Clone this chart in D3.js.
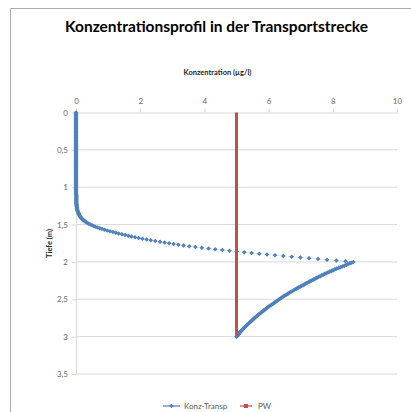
<!DOCTYPE html>
<html>
<head>
<meta charset="utf-8">
<script src="https://cdn.jsdelivr.net/npm/d3@7"></script>
<style>
  body { margin: 0; background: #fff; }
  text { font-family: Lato, "Open Sans", sans-serif; }
</style>
</head>
<body>
<div id="chart"></div>
<script>
const width = 411, height = 412;

// Konz-Transp: concentration (µg/l), one value per 0.01 m depth, 0 ... 3 m
const depthStep = 0.01;
const konzTransp = [
  0,0,0,0,0,0,0,0,0,0,
  0,0,0,0,0,0,0,0,0,0,
  0,0,0,0,0,0,0,0,0,0,
  0,0,0,0,0,0,0,0,0,0,
  0,0,0,0,0,0,0,0,0,0,
  0,0,0,0,0,0,0,0,0,0,
  0,0,0,0,0,0,0,0,0,0,
  0,0,0,0,0,0,0,0,0,0,
  0,0,0,0,0,0,0,0,0,0,
  0,0,0,0,0,0,0,0,0,0,
  0,0,0,0,0,0,0,0,0,0,
  0.01,0.01,0.01,0.01,0.01,0.01,0.01,0.01,0.01,0.01,
  0.01,0.01,0.01,0.02,0.02,0.02,0.02,0.03,0.03,0.03,
  0.04,0.04,0.05,0.06,0.07,0.08,0.09,0.10,0.11,0.12,
  0.14,0.16,0.18,0.20,0.23,0.26,0.29,0.32,0.36,0.40,
  0.45,0.50,0.55,0.60,0.67,0.74,0.81,0.89,0.97,1.06,
  1.15,1.24,1.33,1.43,1.53,1.63,1.73,1.84,1.95,2.07,
  2.20,2.33,2.47,2.62,2.76,2.90,3.04,3.19,3.35,3.53,
  3.72,3.92,4.13,4.34,4.56,4.78,5.01,5.24,5.47,5.71,
  5.95,6.20,6.46,6.72,6.99,7.26,7.54,7.82,8.11,8.40,
  8.64,8.58,8.53,8.47,8.42,8.36,8.30,8.24,8.18,8.12,
  8.06,8.01,7.96,7.90,7.85,7.80,7.75,7.70,7.65,7.61,
  7.56,7.51,7.47,7.42,7.38,7.33,7.29,7.25,7.20,7.16,
  7.12,7.08,7.03,6.99,6.94,6.90,6.86,6.82,6.78,6.74,
  6.70,6.66,6.62,6.59,6.55,6.51,6.47,6.44,6.40,6.37,
  6.33,6.30,6.27,6.23,6.20,6.17,6.14,6.10,6.07,6.03,
  6.00,5.97,5.94,5.91,5.88,5.85,5.82,5.79,5.76,5.73,
  5.70,5.67,5.64,5.62,5.59,5.56,5.54,5.51,5.49,5.46,
  5.44,5.41,5.38,5.36,5.33,5.31,5.29,5.26,5.24,5.22,
  5.20,5.18,5.15,5.13,5.11,5.09,5.08,5.06,5.04,5.02,
  5.00
];

// PW: pore water concentration
const pwDepth = [0, 3];
const pwKonz = [5, 5];

const xTicks = [0, 2, 4, 6, 8, 10];
const yTicks = [0, 0.5, 1, 1.5, 2, 2.5, 3, 3.5];

const blue = "#4F81BD", red = "#C0504D", grid = "#D9D9D9", label = "#595959";

const svg = d3.select("#chart").append("svg")
    .attr("width", width)
    .attr("height", height);

// chart frame
svg.append("path")
    .attr("d", "M10.5,412V8.5H411")
    .attr("fill", "none")
    .attr("stroke", "#ABABAB");

const x = d3.scaleLinear().domain([0, 10]).range([76, 397]);
const y = d3.scaleLinear().domain([0, 3.5]).range([112.5, 374]);

// horizontal gridlines
svg.append("g")
  .selectAll("line")
  .data(yTicks.slice(1))
  .join("line")
    .attr("x1", x(0)).attr("x2", x(10))
    .attr("y1", d => y(d)).attr("y2", d => y(d))
    .attr("stroke", grid);

const fmt = d => String(d).replace(".", ",");

const xAxis = svg.append("g")
    .attr("transform", `translate(0,${y(0)})`)
    .call(d3.axisTop(x).tickValues(xTicks).tickSize(4).tickSizeOuter(0).tickPadding(5).tickFormat(fmt));

const yAxis = svg.append("g")
    .attr("transform", `translate(${x(0)},0)`)
    .call(d3.axisLeft(y).tickValues(yTicks).tickSize(4).tickSizeOuter(0).tickPadding(4).tickFormat(fmt));

[xAxis, yAxis].forEach(a => {
  a.select(".domain").attr("stroke", grid);
  a.selectAll(".tick line").attr("stroke", grid);
  a.selectAll(".tick text")
    .attr("fill", "#6B6B6B")
    .style("font-size", "8px")
    .style("font-family", "Lato, 'Open Sans', sans-serif");
});

// titles
svg.append("text")
    .attr("x", 216.5).attr("y", 32)
    .attr("text-anchor", "middle")
    .attr("textLength", 303)
    .attr("lengthAdjust", "spacingAndGlyphs")
    .style("font-size", "15px").style("font-weight", "bold")
    .attr("fill", "#000")
    .text("Konzentrationsprofil in der Transportstrecke");

svg.append("text")
    .attr("x", 217.5).attr("y", 75)
    .attr("text-anchor", "middle")
    .style("font-size", "7.5px").style("font-weight", "bold")
    .attr("fill", "#262626")
    .text("Konzentration  (µg/l)");

svg.append("text")
    .attr("transform", "translate(51.5,243.5) rotate(-90)")
    .attr("text-anchor", "middle")
    .style("font-size", "7.5px").style("font-weight", "bold")
    .attr("fill", "#262626")
    .text("Tiefe (m)");

// Konz-Transp series
const pts = konzTransp.map((c, i) => ({ c: c, z: i * depthStep }));

const line = d3.line().x(d => x(d.c)).y(d => y(d.z));

svg.append("path")
    .datum(pts)
    .attr("d", line)
    .attr("fill", "none")
    .attr("stroke", blue)
    .attr("stroke-opacity", 0.35)
    .attr("stroke-width", 0.5);

const diamond = "M0,-2.3L2.3,0L0,2.3L-2.3,0Z";

svg.append("g")
  .selectAll("path")
  .data(pts)
  .join("path")
    .attr("transform", d => `translate(${x(d.c)},${y(d.z)})`)
    .attr("d", diamond)
    .attr("fill", blue);

// PW series
const pw = pwDepth.map((z, i) => ({ c: pwKonz[i], z: z }));

svg.append("path")
    .datum(pw)
    .attr("d", line)
    .attr("fill", "none")
    .attr("stroke", red)
    .attr("stroke-width", 3);

// legend
const lg = svg.append("g").attr("transform", "translate(0,406)");
lg.append("line").attr("x1", 163).attr("x2", 180).attr("stroke", blue).attr("stroke-width", 1.2);
lg.append("path").attr("transform", "translate(171.5,0)").attr("d", diamond).attr("fill", blue);
lg.append("text").attr("x", 184).attr("y", 3).attr("fill", label).style("font-size", "8px").text("Konz-Transp");
lg.append("line").attr("x1", 240).attr("x2", 252).attr("stroke", red).attr("stroke-width", 1.2);
lg.append("rect").attr("x", 244).attr("y", -2).attr("width", 4).attr("height", 4).attr("fill", red);
lg.append("text").attr("x", 258).attr("y", 3).attr("fill", label).style("font-size", "8px").text("PW");
</script>
</body>
</html>
